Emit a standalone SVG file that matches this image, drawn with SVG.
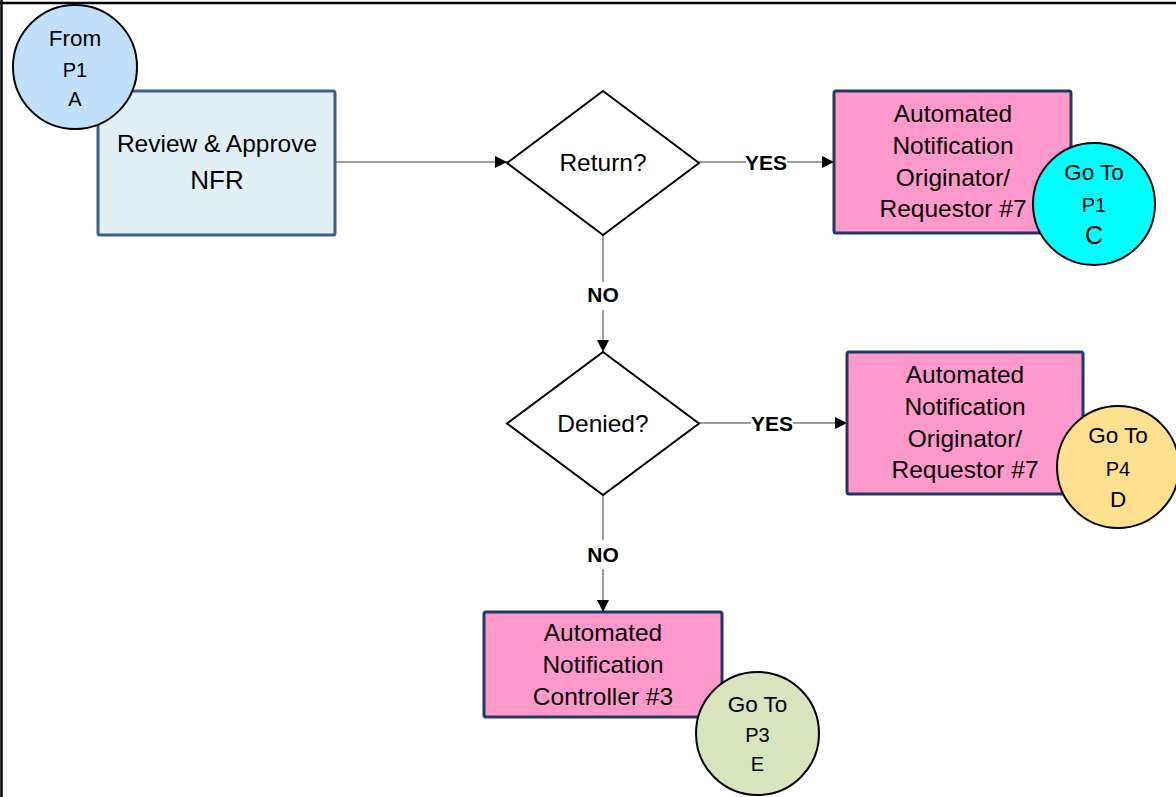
<svg xmlns="http://www.w3.org/2000/svg" width="1176" height="797" viewBox="0 0 1176 797">
<defs>
<marker id="arr" markerUnits="userSpaceOnUse" markerWidth="13" markerHeight="12" refX="12" refY="6" orient="auto">
<path d="M0,0 L12,6 L0,12 z" fill="#000"/>
</marker>
<style>
text{font-family:"Liberation Sans",Arial,sans-serif;fill:#000;text-anchor:middle}
.t{font-size:24.5px}
.c{font-size:22.5px}
.s{font-size:20px}
.lbl{font-size:21px;font-weight:bold}
.pink{fill:#ff99cc;stroke:#1f3864;stroke-width:3}
.circ{stroke:#000;stroke-width:2}
.ln{stroke:#7f7f7f;stroke-width:1.5;fill:none}
.dia{fill:#fff;stroke:#000;stroke-width:2}
</style>
</defs>
<rect width="1176" height="797" fill="#fff"/>
<line x1="0" y1="3" x2="1176" y2="3" stroke="#000" stroke-width="2.5"/>
<line x1="1.5" y1="0" x2="1.5" y2="797" stroke="#000" stroke-width="2.5"/>

<g id="connectors">
<line class="ln" x1="335" y1="162" x2="507" y2="162" marker-end="url(#arr)"/>
<line class="ln" x1="699" y1="162" x2="746" y2="162"/>
<line class="ln" x1="787" y1="162" x2="834" y2="162" marker-end="url(#arr)"/>
<text class="lbl" x="766" y="170">YES</text>
<line class="ln" x1="603" y1="235" x2="603" y2="282"/>
<line class="ln" x1="603" y1="310" x2="603" y2="352" marker-end="url(#arr)"/>
<text class="lbl" x="603" y="302">NO</text>
<line class="ln" x1="699" y1="423" x2="751" y2="423"/>
<line class="ln" x1="793" y1="423" x2="847" y2="423" marker-end="url(#arr)"/>
<text class="lbl" x="772" y="431">YES</text>
<line class="ln" x1="603" y1="495" x2="603" y2="540"/>
<line class="ln" x1="603" y1="569" x2="603" y2="612" marker-end="url(#arr)"/>
<text class="lbl" x="603" y="562">NO</text>
</g>

<g id="review">
<rect x="98" y="91" width="237" height="144" rx="2" fill="#e1f0f5" stroke="#3f5f88" stroke-width="3"/>
<text class="t" x="217" y="152">Review &amp; Approve</text>
<text x="217" y="189" style="font-size:26px">NFR</text>
</g>

<g id="fromA">
<circle class="circ" cx="75" cy="67" r="62" fill="#c2e0fc"/>
<text class="c" x="75" y="46">From</text>
<text class="s" x="75" y="77">P1</text>
<text class="s" x="75" y="106">A</text>
</g>

<g id="returnQ">
<polygon class="dia" points="603,91 699,163 603,235 507,163"/>
<text class="t" x="603" y="171">Return?</text>
</g>

<g id="notifyReturn">
<rect class="pink" x="834" y="91" width="237" height="142" rx="2"/>
<text class="t" x="953" y="122">Automated</text>
<text class="t" x="953" y="154">Notification</text>
<text class="t" x="953" y="186">Originator/</text>
<text class="t" x="953" y="217">Requestor #7</text>
</g>

<g id="gotoC">
<circle class="circ" cx="1094" cy="204" r="61" fill="#00ffff"/>
<text class="c" x="1094" y="180">Go To</text>
<text class="s" x="1094" y="212">P1</text>
<text x="1094" y="244" style="font-size:25px">C</text>
</g>

<g id="deniedQ">
<polygon class="dia" points="603,352 699,423.5 603,495 507,423.5"/>
<text class="t" x="603" y="432">Denied?</text>
</g>

<g id="notifyDenied">
<rect class="pink" x="847" y="352" width="236" height="142" rx="2"/>
<text class="t" x="965" y="383">Automated</text>
<text class="t" x="965" y="415">Notification</text>
<text class="t" x="965" y="447">Originator/</text>
<text class="t" x="965" y="478">Requestor #7</text>
</g>

<g id="gotoD">
<circle class="circ" cx="1118" cy="467" r="61" fill="#ffe08f"/>
<text class="c" x="1118" y="443">Go To</text>
<text class="s" x="1118" y="476">P4</text>
<text class="c" x="1118" y="507">D</text>
</g>

<g id="notifyController">
<rect class="pink" x="484" y="612" width="238" height="105" rx="2"/>
<text class="t" x="603" y="641">Automated</text>
<text class="t" x="603" y="673">Notification</text>
<text class="t" x="603" y="705">Controller #3</text>
</g>

<g id="gotoE">
<circle class="circ" cx="757.5" cy="733.5" r="61.5" fill="#d7e4bd"/>
<text class="c" x="757.5" y="712">Go To</text>
<text class="s" x="757.5" y="742">P3</text>
<text class="s" x="757.5" y="771">E</text>
</g>
</svg>
